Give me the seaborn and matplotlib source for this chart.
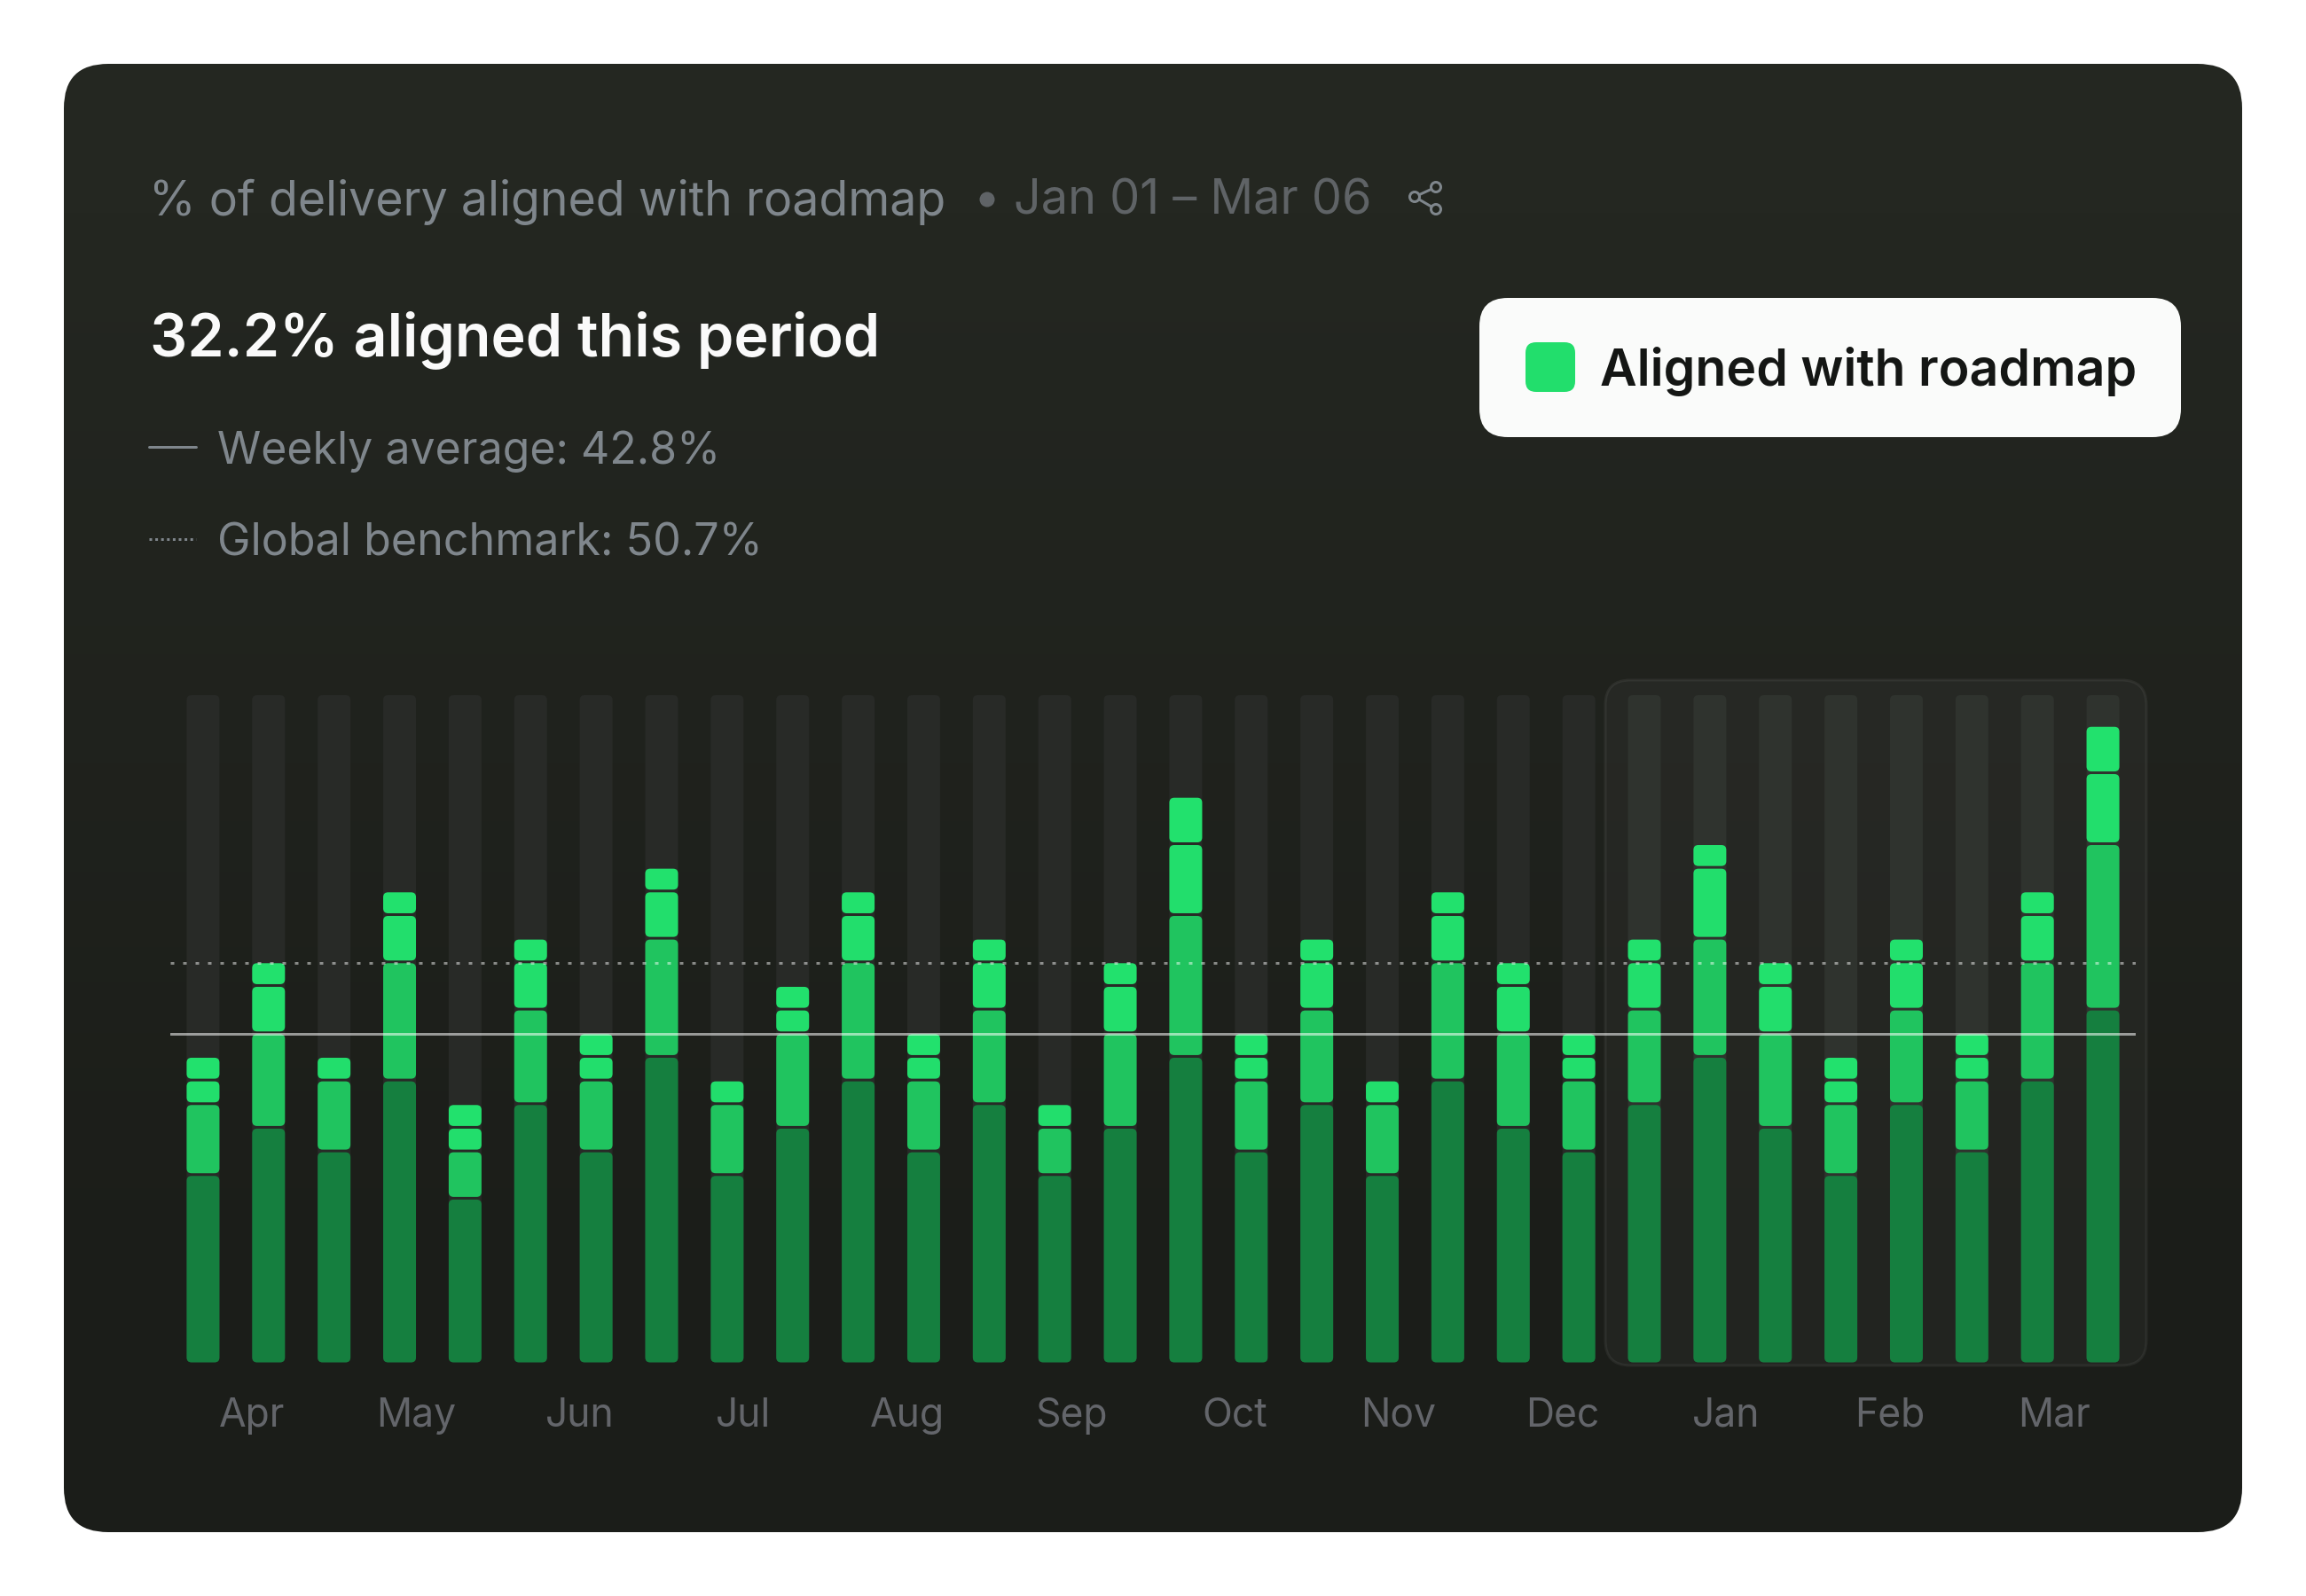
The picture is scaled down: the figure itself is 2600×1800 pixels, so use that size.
import numpy as np
import seaborn as sns
import matplotlib.pyplot as plt
from matplotlib.patches import FancyBboxPatch, Circle
from matplotlib.lines import Line2D

# bar segments in grid steps of the track
weeks = list(range(30))
dark = [8, 10, 9, 12, 7, 11, 9, 13, 8, 10, 12, 9, 11, 8, 10, 13, 9, 11, 8, 12, 10, 9, 11, 13, 10, 8, 11, 9, 12, 15]
mid = [3, 4, 3, 5, 2, 4, 3, 5, 3, 4, 5, 3, 4, 2, 4, 6, 3, 4, 3, 5, 4, 3, 4, 5, 4, 3, 4, 3, 5, 7]
upper = [1, 2, 1, 2, 1, 2, 1, 2, 1, 1, 2, 1, 2, 1, 2, 3, 1, 2, 1, 2, 2, 1, 2, 3, 2, 1, 2, 1, 2, 3]
top = [1, 1, 0, 1, 1, 1, 1, 1, 0, 1, 1, 1, 1, 0, 1, 2, 1, 1, 0, 1, 1, 1, 1, 1, 1, 1, 1, 1, 1, 2]
track_height = 28.34
weekly_avg = 14
benchmark = 17
months = ['Apr', 'May', 'Jun', 'Jul', 'Aug', 'Sep', 'Oct', 'Nov', 'Dec', 'Jan', 'Feb', 'Mar']
month_pos = [0.75, 3.25, 5.75, 8.25, 10.75, 13.25, 15.75, 18.25, 20.75, 23.25, 25.75, 28.25]
first_highlighted = 22

W, H = 2600, 1800
PT = 72 / 200  # one image pixel in points

sns.set_style('white')
plt.rcParams['font.family'] = ['Inter', 'DejaVu Sans']

fig = plt.figure(figsize=(13, 9), dpi=200, facecolor='white')

# card background and all the text, in image pixels
bg = fig.add_axes([0, 0, 1, 1], zorder=0)
bg.set_xlim(0, W)
bg.set_ylim(H, 0)
bg.axis('off')

card = FancyBboxPatch((72, 72), 2456, 1656, boxstyle='round,pad=0,rounding_size=50',
                      fc='none', ec='none')
bg.add_patch(card)
c1, c2 = np.array([36, 39, 33]), np.array([27, 29, 25])
grad = np.linspace(0, 1, 256)[:, None, None]
grad = np.clip((grad - 0.1) / 0.75, 0, 1)
img = (c1 * (1 - grad) + c2 * grad) / 255
im = bg.imshow(img, extent=(72, 2528, 1728, 72), aspect='auto', zorder=0)
im.set_clip_path(card)
bg.set_xlim(0, W)
bg.set_ylim(H, 0)

grey = '#7f868c'
bg.text(168, 222, '% of delivery aligned with roadmap', color=grey, fontsize=19.3, va='center_baseline')
bg.add_patch(Circle((1113, 225), 8.5, fc='#5f6366', ec='none'))
bg.text(1143, 222, 'Jan 01 – Mar 06', color='#5f6366', fontsize=19.45, va='center_baseline')

# share icon
nodes = [(1619, 211), (1595, 222), (1619, 236)]
bg.add_line(Line2D([n[0] for n in nodes], [n[1] for n in nodes], color=grey, lw=3 * PT, zorder=3))
for n in nodes:
    bg.add_patch(Circle(n, 5.5, fc='#22251f', ec=grey, lw=3 * PT, zorder=4))

bg.text(169, 376, '32.2% aligned this period', color='#fafafa', fontsize=23.9,
        fontweight='semibold', va='center_baseline')
bg.text(245, 504, 'Weekly average: 42.8%', color=grey, fontsize=18, va='center_baseline')
bg.text(245, 608, 'Global benchmark: 50.7%', color=grey, fontsize=18.1, va='center_baseline')
bg.add_line(Line2D([168, 221], [504, 504], color=grey, lw=3 * PT))
bg.add_line(Line2D([168, 221], [608, 608], color=grey, lw=3 * PT, dashes=(1, 1.2), dash_capstyle='butt'))

bg.add_patch(FancyBboxPatch((1668, 336), 791, 157, boxstyle='round,pad=0,rounding_size=32',
                            fc='#fafbfa', ec='none', zorder=3))
bg.add_patch(FancyBboxPatch((1720, 386), 56, 56, boxstyle='round,pad=0,rounding_size=12',
                            fc='#22de6c', ec='none', zorder=4))
bg.text(1804, 413, 'Aligned with roadmap', color='#141614', fontsize=20.6, fontweight='semibold',
        va='center_baseline', zorder=4)

# highlighted last weeks
bg.add_patch(FancyBboxPatch((1810, 767), 610, 773, boxstyle='round,pad=0,rounding_size=28',
                            fc=(1, 1, 1, 0.03), ec=(1, 1, 1, 0.06), lw=3 * PT, zorder=1))

# chart axes: left 192 to 2408 px, baseline at 1539.5 px, track top at 784 px
ax = fig.add_axes([192 / W, (H - 1539.5) / H, 2216 / W, 755.5 / H], zorder=1)
ax.patch.set_alpha(0)

x_px = 2216 / 30
y_px = 755.5 / track_height
radius = 5.5 / x_px
aspect = x_px / y_px
gap = 3 / y_px


def draw_layer(heights, bottoms, color):
    start = len(ax.patches)
    sns.barplot(x=weeks, y=heights, bottom=bottoms, color=color, saturation=1,
                width=37 / x_px, ax=ax, errorbar=None)
    for rect in list(ax.patches[start:]):
        x0, y0 = rect.get_x(), rect.get_y()
        w, h = rect.get_width(), rect.get_height()
        fc = rect.get_facecolor()
        rect.remove()
        if h <= 0:
            continue
        ax.add_patch(FancyBboxPatch((x0, y0 + gap), w, h - gap,
                                    boxstyle=f'round,pad=0,rounding_size={radius}',
                                    mutation_aspect=aspect, fc=fc, ec='none', zorder=2))


dark_a = np.array(dark)
mid_a = np.array(mid)
upper_a = np.array(upper)
top_a = np.array(top)

track_colors = ['#282a27' if w < first_highlighted else '#2f332e' for w in weeks]
start = len(ax.patches)
draw_layer([track_height] * 30, [0] * 30, '#282a27')
for patch, col in zip(ax.patches[start:], track_colors):
    patch.set_facecolor(col)

draw_layer(dark_a, 0 * dark_a, '#157f3f')
draw_layer(mid_a, dark_a, '#20c45f')
draw_layer(upper_a, dark_a + mid_a, '#22de6c')
draw_layer(top_a, dark_a + mid_a + upper_a, '#22e16d')

ax.axhline(benchmark, color='white', alpha=0.48, lw=3 * PT, dashes=(4 / 3, 10 / 3),
           dash_capstyle='butt', zorder=3)
ax.axhline(weekly_avg, color='white', alpha=0.55, lw=3 * PT, zorder=3)

ax.set_xlim(-0.5, 29.5)
ax.set_ylim(0, track_height)
ax.set_xticks(month_pos)
ax.set_xticklabels(months, color='#63656a', fontsize=16)
ax.set_yticks([])
ax.tick_params(axis='x', length=0, pad=13)
ax.set_xlabel('')
ax.set_ylabel('')
sns.despine(ax=ax, left=True, bottom=True)
ax.grid(False)

fig.savefig('out.png', dpi=200, facecolor='white')
